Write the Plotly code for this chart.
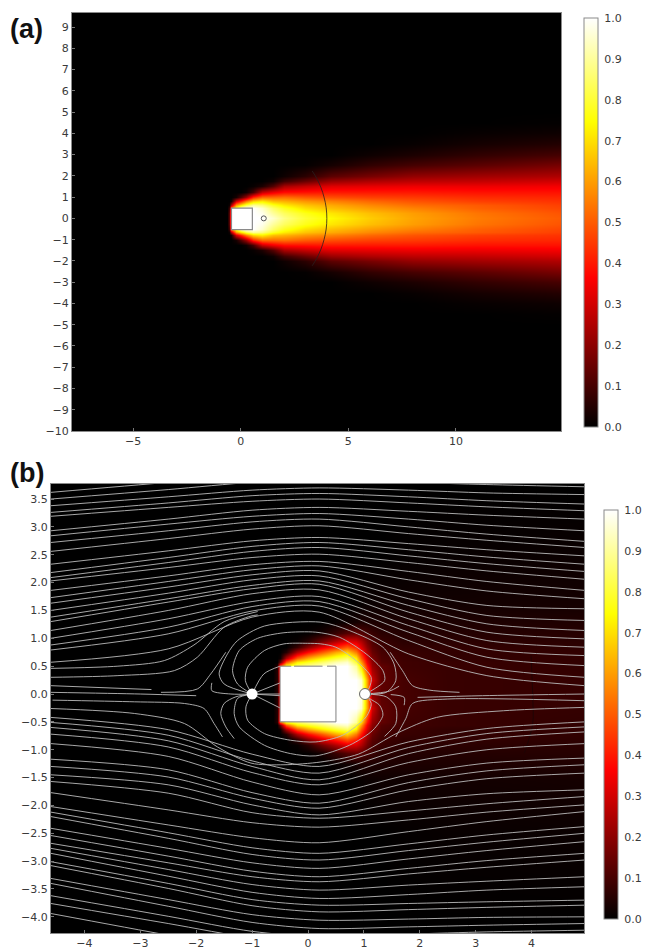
import plotly.graph_objects as go

W, H = 645, 952
HOT = [[0, "#000000"], [0.365, "#ff0000"], [0.746, "#ffff00"], [1, "#ffffff"]]
GRAY = "#8a8a8a"
TXT = "#3a3a3a"
STREAM = "#bababa"

# ---------- panel (a) field, upper half (mirrored about y = 0) ----------
A_X = [-7.84, -0.65, -0.55, -0.43, -0.2, 0, 0.25, 0.55, 1, 1.5, 2, 3, 4.2, 6, 8, 11, 14.88]
A_Y = [0, 0.25, 0.5, 0.62, 0.8, 1, 1.25, 1.5, 1.75, 2, 2.5, 3, 3.5, 4, 4.5, 5, 9.66]
A_Z = [
    [0, 0, 0.12, 0.60, 0.90, 1, 1, 1, 1, 0.95, 0.88, 0.80, 0.74, 0.67, 0.61, 0.55, 0.50],
    [0, 0, 0.12, 0.60, 0.90, 1, 1, 1, 0.98, 0.90, 0.84, 0.77, 0.71, 0.65, 0.60, 0.54, 0.49],
    [0, 0, 0.08, 0.55, 0.80, 0.95, 1, 1, 0.95, 0.85, 0.78, 0.70, 0.65, 0.60, 0.56, 0.51, 0.47],
    [0, 0, 0.02, 0.25, 0.60, 0.72, 0.82, 0.90, 0.87, 0.78, 0.72, 0.66, 0.62, 0.57, 0.53, 0.50, 0.46],
    [0, 0, 0, 0.03, 0.30, 0.42, 0.55, 0.68, 0.72, 0.65, 0.63, 0.59, 0.56, 0.52, 0.49, 0.46, 0.44],
    [0, 0, 0, 0, 0.03, 0.12, 0.22, 0.42, 0.52, 0.52, 0.53, 0.50, 0.48, 0.46, 0.45, 0.43, 0.42],
    [0, 0, 0, 0, 0, 0, 0.02, 0.10, 0.28, 0.34, 0.38, 0.39, 0.40, 0.40, 0.40, 0.39, 0.39],
    [0, 0, 0, 0, 0, 0, 0, 0.01, 0.04, 0.12, 0.24, 0.28, 0.32, 0.33, 0.34, 0.34, 0.35],
    [0, 0, 0, 0, 0, 0, 0, 0, 0, 0.02, 0.09, 0.15, 0.22, 0.25, 0.27, 0.28, 0.30],
    [0, 0, 0, 0, 0, 0, 0, 0, 0, 0, 0.02, 0.06, 0.13, 0.17, 0.21, 0.23, 0.25],
    [0, 0, 0, 0, 0, 0, 0, 0, 0, 0, 0, 0.005, 0.03, 0.07, 0.10, 0.13, 0.17],
    [0, 0, 0, 0, 0, 0, 0, 0, 0, 0, 0, 0, 0, 0.02, 0.04, 0.07, 0.10],
    [0, 0, 0, 0, 0, 0, 0, 0, 0, 0, 0, 0, 0, 0, 0.01, 0.03, 0.05],
    [0, 0, 0, 0, 0, 0, 0, 0, 0, 0, 0, 0, 0, 0, 0, 0.01, 0.02],
    [0, 0, 0, 0, 0, 0, 0, 0, 0, 0, 0, 0, 0, 0, 0, 0, 0.005],
    [0, 0, 0, 0, 0, 0, 0, 0, 0, 0, 0, 0, 0, 0, 0, 0, 0],
    [0, 0, 0, 0, 0, 0, 0, 0, 0, 0, 0, 0, 0, 0, 0, 0, 0],
]
A_BOX_X = [-0.43, 0.54]
A_BOX_Y = [-0.53, 0.48]
A_ARC_X = [3.32, 3.53, 3.73, 3.87, 3.97, 4.0, 3.97, 3.87, 3.73, 3.53, 3.32]
A_ARC_Y = [2.23, 1.88, 1.44, 1.0, 0.5, 0, -0.5, -1.0, -1.44, -1.88, -2.23]
A_PROBE_X = [1.07]
A_PROBE_Y = [0]
A_XT = [-5, 0, 5, 10]
A_YT = list(range(-10, 10))

# ---------- panel (b) field: upper rows and the y of the matching lower rows ----------
B_X = [-4.6, -0.62, -0.56, -0.5, -0.4, -0.2, 0, 0.25, 0.5, 0.7, 0.85, 0.95, 1.05, 1.15, 1.3, 1.7, 2.5, 4.95]
B_Y_UP = [0, 0.25, 0.5, 0.58, 0.65, 0.75, 0.85, 0.95, 1.1, 1.3, 1.6, 2.5, 3.77]
B_Y_LOW = [0, -0.25, -0.5, -0.56, -0.62, -0.71, -0.81, -0.91, -1.05, -1.25, -1.55, -2.5, -4.29]
B_Z = [
    [0, 0, 0.05, 0.40, 1, 1, 1, 1, 1, 1, 1, 0.98, 0.60, 0.20, 0.13, 0.10, 0.08, 0.075],
    [0, 0, 0.05, 0.40, 1, 1, 1, 1, 1, 1, 1, 0.95, 0.60, 0.30, 0.14, 0.10, 0.08, 0.075],
    [0, 0, 0.05, 0.50, 0.78, 0.85, 0.90, 0.95, 1, 1, 0.90, 0.70, 0.40, 0.22, 0.14, 0.09, 0.08, 0.07],
    [0, 0, 0, 0.15, 0.50, 0.72, 0.78, 0.85, 0.92, 0.95, 0.80, 0.60, 0.34, 0.20, 0.12, 0.09, 0.08, 0.07],
    [0, 0, 0, 0.02, 0.25, 0.50, 0.62, 0.72, 0.80, 0.85, 0.72, 0.50, 0.30, 0.18, 0.11, 0.085, 0.07, 0.07],
    [0, 0, 0, 0, 0.05, 0.25, 0.38, 0.50, 0.62, 0.68, 0.55, 0.40, 0.24, 0.15, 0.10, 0.08, 0.07, 0.07],
    [0, 0, 0, 0, 0, 0.08, 0.20, 0.33, 0.42, 0.50, 0.42, 0.32, 0.20, 0.13, 0.09, 0.07, 0.07, 0.065],
    [0, 0, 0, 0, 0, 0.01, 0.06, 0.16, 0.25, 0.32, 0.30, 0.25, 0.16, 0.11, 0.08, 0.06, 0.06, 0.06],
    [0, 0, 0, 0, 0, 0, 0.005, 0.03, 0.08, 0.12, 0.14, 0.12, 0.10, 0.08, 0.06, 0.05, 0.05, 0.055],
    [0, 0, 0, 0, 0, 0, 0, 0, 0.01, 0.02, 0.03, 0.04, 0.04, 0.04, 0.04, 0.04, 0.04, 0.045],
    [0, 0, 0, 0, 0, 0, 0, 0, 0, 0, 0.005, 0.01, 0.015, 0.015, 0.02, 0.02, 0.025, 0.03],
    [0, 0, 0, 0, 0, 0, 0, 0, 0, 0, 0, 0, 0, 0, 0, 0.005, 0.01, 0.015],
    [0, 0, 0, 0, 0, 0, 0, 0, 0, 0, 0, 0, 0, 0, 0, 0, 0, 0],
]
B_BOX_X = [-0.5, -0.5, 0.5, 0.5, -0.5]
B_BOX_Y = [-0.5, 0.5, 0.5, -0.5, -0.5]
B_EDGE_X = [-0.5, -0.3, None, -0.25, 0.26, None, 0.34, 0.5, 0.5, -0.5, -0.5]
B_EDGE_Y = [0.5, 0.5, None, 0.5, 0.5, None, 0.5, 0.5, -0.5, -0.5, 0.5]
B_DOT_L = [-1.0, 0]
B_DOT_R = [1.02, 0]
B_ARC_X = [3.99, 4.02, 4.02, 3.87]
B_ARC_Y = [0.69, -0.06, -0.53, -1.06]
B_XT = [-4, -3, -2, -1, 0, 1, 2, 3, 4]
B_YT = [3.5, 3.0, 2.5, 2.0, 1.5, 1.0, 0.5, 0.0, -0.5, -1.0, -1.5, -2.0, -2.5, -3.0, -3.5, -4.0]

# ---------- panel (b) streamlines crossing the whole frame ----------
FAR_X = [-4.6, -2.5, -1.0, 0.2, 1.8, 3.2, 4.95]
FAR_Y = [
    [3.62, 3.80, 3.93, 3.98, 3.93, 3.88, 3.84],
    [3.50, 3.67, 3.80, 3.84, 3.80, 3.76, 3.72],
    [3.38, 3.54, 3.66, 3.70, 3.66, 3.61, 3.58],
    [3.26, 3.43, 3.56, 3.60, 3.54, 3.47, 3.41],
    [3.19, 3.35, 3.46, 3.50, 3.43, 3.36, 3.29],
    [2.93, 3.14, 3.30, 3.35, 3.28, 3.21, 3.14],
    [2.84, 3.05, 3.19, 3.24, 3.14, 3.03, 2.93],
    [2.72, 2.93, 3.09, 3.14, 3.00, 2.87, 2.74],
    [2.56, 2.79, 2.96, 3.02, 2.88, 2.76, 2.63],
    [2.33, 2.57, 2.75, 2.81, 2.70, 2.59, 2.48],
    [2.18, 2.45, 2.65, 2.72, 2.59, 2.46, 2.33],
    [2.09, 2.36, 2.56, 2.63, 2.48, 2.34, 2.20],
    [2.03, 2.27, 2.45, 2.51, 2.36, 2.21, 2.06],
    [1.86, 2.12, 2.32, 2.38, 2.20, 2.02, 1.86],
    [1.73, 2.02, 2.23, 2.30, 2.05, 1.85, 1.71],
    [1.63, 1.92, 2.14, 2.21, 1.83, 1.59, 1.53],
    [1.50, 1.81, 2.05, 2.12, 1.71, 1.41, 1.32],
    [1.38, 1.71, 1.95, 2.03, 1.59, 1.26, 1.14],
    [1.30, 1.65, 1.89, 1.97, 1.47, 1.11, 0.99],
    [1.14, 1.50, 1.80, 1.87, 1.35, 0.96, 0.84],
    [1.00, 1.35, 1.66, 1.75, 1.23, 0.81, 0.69],
    [0.88, 1.20, 1.57, 1.66, 1.11, 0.66, 0.51],
    [0.79, 1.08, 1.49, 1.58, 0.96, 0.48, 0.30],
    [0.57, 0.81, 1.38, 1.47, 0.72, 0.33, 0.15],
    [-0.42, -0.64, -1.08, -1.30, -0.86, -0.62, -0.50],
    [-0.51, -0.74, -1.20, -1.42, -0.96, -0.71, -0.59],
    [-0.60, -0.84, -1.30, -1.54, -1.07, -0.81, -0.68],
    [-0.72, -0.95, -1.41, -1.63, -1.23, -1.00, -0.89],
    [-0.89, -1.12, -1.58, -1.81, -1.45, -1.24, -1.15],
    [-1.17, -1.36, -1.77, -1.96, -1.59, -1.38, -1.27],
    [-1.30, -1.49, -1.87, -2.05, -1.72, -1.52, -1.42],
    [-1.45, -1.63, -1.99, -2.17, -1.93, -1.79, -1.72],
    [-1.57, -1.78, -2.13, -2.23, -2.10, -1.97, -1.84],
    [-1.77, -2.08, -2.31, -2.39, -2.26, -2.12, -1.99],
    [-2.02, -2.35, -2.58, -2.67, -2.47, -2.29, -2.11],
    [-2.12, -2.49, -2.76, -2.86, -2.69, -2.53, -2.38],
    [-2.20, -2.59, -2.88, -2.98, -2.81, -2.66, -2.50],
    [-2.41, -2.77, -3.03, -3.13, -2.96, -2.81, -2.65],
    [-2.54, -2.91, -3.18, -3.28, -3.13, -2.99, -2.86],
    [-2.68, -3.03, -3.28, -3.37, -3.23, -3.11, -2.98],
    [-2.77, -3.15, -3.42, -3.52, -3.43, -3.36, -3.28],
    [-2.86, -3.27, -3.56, -3.67, -3.60, -3.52, -3.46],
    [-3.01, -3.40, -3.69, -3.79, -3.76, -3.73, -3.70],
    [-3.08, -3.49, -3.80, -3.91, -3.87, -3.83, -3.79],
    [-3.31, -3.69, -3.96, -4.06, -4.04, -4.01, -4.00],
    [-3.40, -3.81, -4.10, -4.21, -4.18, -4.15, -4.12],
    [-3.62, -3.99, -4.26, -4.36, -4.31, -4.27, -4.24],
    [-3.76, -4.12, -4.38, -4.48, -4.45, -4.41, -4.36],
    [-3.94, -4.33, -4.60, -4.70, -4.66, -4.60, -4.55],
]

# ---------- panel (b) streamlines near the body ----------
NEAR_LINES = [
    ([-1.0, -1.12, -1.08, -0.78, -0.43, -0.01, 0.23, 0.50, 0.86, 1.13, 1.10, 1.02],
     [0.0, 0.24, 0.48, 0.78, 0.90, 0.91, 0.90, 0.84, 0.60, 0.30, 0.12, 0.0]),
    ([-1.0, -1.26, -1.35, -1.23, -0.90, -0.43, 0.14, 0.56, 1.04, 1.34, 1.37, 1.10, 1.02],
     [0.0, 0.18, 0.42, 0.78, 1.00, 1.10, 1.11, 1.02, 0.72, 0.42, 0.24, 0.04, 0.0]),
    ([-1.0, -1.50, -1.59, -1.44, -1.26, -0.78, 0.23, 0.74, 1.34, 1.54, 1.57, 1.40, 1.02],
     [0.0, 0.18, 0.36, 0.72, 0.96, 1.22, 1.29, 1.14, 0.84, 0.54, 0.24, 0.03, 0.0]),
    ([-1.0, -0.79, -0.5], [0.0, 0.36, 0.50]),
    ([-1.0, -0.5], [0.0, 0.2]),
    ([-1.0, -0.5], [0.0, -0.03]),
    ([-1.0, -0.5], [0.0, -0.25]),
    ([-1.72, -1.72, -1.38, -1.0], [0.20, 0.06, 0.0, 0.0]),
    ([-2.63, -1.98, -1.74, -1.47], [0.03, 0.09, 0.36, 0.75]),
    ([-4.6, -2.8], [0.15, 0.08]),
    ([-4.6, -3.4, -2.39, -1.98, -1.50, -1.02, -0.9], [0.30, 0.33, 0.42, 0.66, 1.20, 1.40, 1.42]),
    ([-4.6, -3.4, -2.57, -2.04, -1.50, -0.90], [0.46, 0.50, 0.60, 0.88, 1.30, 1.48]),
    ([-4.6, -3.0, -2.0], [0.03, 0.0, -0.03]),
    ([1.47, 1.69, 1.87, 2.17, 2.71], [0.75, 0.42, 0.15, 0.07, 0.03]),
    ([1.02, 1.45, 1.63], [0.0, 0.05, 0.14]),
    ([1.48, 1.72, 1.72], [-0.01, -0.06, -0.20]),
    ([1.96, 3.12, 4.94], [-0.06, -0.03, 0.0]),
    ([-1.0, -1.11, -1.08, -0.78, -0.31, 0.14, 0.62, 1.04, 1.13, 1.02],
     [0.0, -0.23, -0.47, -0.71, -0.83, -0.86, -0.74, -0.41, -0.17, 0.0]),
    ([-1.0, -1.26, -1.32, -1.23, -0.78, -0.31, 0.14, 0.74, 1.16, 1.34, 1.28, 1.10, 1.02],
     [0.0, -0.08, -0.35, -0.59, -0.92, -1.07, -1.11, -0.92, -0.65, -0.38, -0.20, -0.08, 0.0]),
    ([-1.0, -1.29, -1.50, -1.56, -1.47, -1.32], [0.0, -0.05, -0.17, -0.35, -0.59, -0.80]),
    ([-4.57, -3.1, -2.21, -1.86, -1.68, -1.53], [-0.11, -0.14, -0.17, -0.26, -0.53, -0.77]),
    ([-4.6, -3.1, -2.21, -1.62, -1.02, -0.43, 0.23, 0.9, 1.6, 2.3, 3.5, 4.94],
     [-0.26, -0.35, -0.53, -0.95, -1.24, -1.27, -1.22, -1.08, -0.70, -0.42, -0.30, -0.24]),
    ([1.02, 1.40, 1.57, 1.57, 1.37], [0.0, -0.05, -0.23, -0.53, -0.76]),
    ([1.57, 1.75, 1.87, 2.5, 4.94], [-0.77, -0.44, -0.17, -0.09, -0.12]),
    ([-1.0, -0.5], [0.0, 0.0]),
]

fig = go.Figure()


def colorbar(y_top_px, x_px):
    return dict(
        x=x_px / W, xanchor="left", xpad=0,
        y=1 - y_top_px / H, yanchor="top", ypad=0,
        len=409, lenmode="pixels", thickness=14, thicknessmode="pixels",
        outlinecolor=GRAY, outlinewidth=1,
        tickvals=[i / 10 for i in range(11)], tickformat=".1f",
        ticks="outside", ticklen=4, tickcolor="rgba(0,0,0,0)", tickwidth=1,
        tickfont=dict(family="DejaVu Sans", size=11, color=TXT),
    )


fig.add_trace(go.Heatmap(
    x=A_X, y=[-v for v in A_Y[:0:-1]] + A_Y, z=A_Z[:0:-1] + A_Z,
    zmin=0, zmax=1, zsmooth="best", colorscale=HOT,
    colorbar=colorbar(18, 584), xaxis="x", yaxis="y", hoverinfo="skip",
))
fig.add_trace(go.Scatter(x=A_ARC_X, y=A_ARC_Y, mode="lines", line=dict(color="#2a2020", width=0.8, shape="spline"),
                         xaxis="x", yaxis="y", showlegend=False, hoverinfo="skip"))
fig.add_trace(go.Scatter(x=A_PROBE_X, y=A_PROBE_Y, mode="markers",
                         marker=dict(symbol="circle-open", size=5, color="#555555", line=dict(width=1)),
                         xaxis="x", yaxis="y", showlegend=False, hoverinfo="skip"))

fig.add_trace(go.Heatmap(
    x=B_X, y=B_Y_LOW[:0:-1] + B_Y_UP, z=B_Z[:0:-1] + B_Z, zmin=0, zmax=1, zsmooth="best", colorscale=HOT,
    colorbar=colorbar(510, 604), xaxis="x2", yaxis="y2", hoverinfo="skip",
))
fig.add_trace(go.Scatter(x=B_ARC_X, y=B_ARC_Y, mode="lines", line=dict(color="#1a0505", width=0.8, shape="spline"),
                         xaxis="x2", yaxis="y2", showlegend=False, hoverinfo="skip"))
for ys in FAR_Y:
    fig.add_trace(go.Scatter(x=FAR_X, y=ys, mode="lines", line=dict(color=STREAM, width=0.9, shape="spline", smoothing=0.8),
                             xaxis="x2", yaxis="y2", showlegend=False, hoverinfo="skip"))
for xs, ys in NEAR_LINES:
    fig.add_trace(go.Scatter(x=xs, y=ys, mode="lines", line=dict(color=STREAM, width=0.9, shape="spline", smoothing=0.8),
                             xaxis="x2", yaxis="y2", showlegend=False, hoverinfo="skip"))

fig.add_trace(go.Scatter(x=B_BOX_X, y=B_BOX_Y, mode="lines", fill="toself", fillcolor="white", line=dict(width=0, color="white"),
                         xaxis="x2", yaxis="y2", showlegend=False, hoverinfo="skip"))
fig.add_trace(go.Scatter(x=B_EDGE_X, y=B_EDGE_Y, mode="lines", line=dict(width=1, color="#808080"),
                         xaxis="x2", yaxis="y2", showlegend=False, hoverinfo="skip"))
fig.add_trace(go.Scatter(x=[B_DOT_L[0]], y=[B_DOT_L[1]], mode="markers",
                         marker=dict(size=11, color="white", line=dict(width=0)),
                         xaxis="x2", yaxis="y2", showlegend=False, hoverinfo="skip"))
fig.add_trace(go.Scatter(x=[B_DOT_R[0]], y=[B_DOT_R[1]], mode="markers",
                         marker=dict(size=11, color="white", line=dict(width=1, color="#666666")),
                         xaxis="x2", yaxis="y2", showlegend=False, hoverinfo="skip"))


def axis(domain, rng, ticks, anchor, fmt=None):
    a = dict(domain=domain, range=rng, tickvals=ticks, anchor=anchor, showgrid=False, zeroline=False,
             showline=True, linecolor=GRAY, linewidth=1, mirror=True,
             ticks="inside", ticklen=3, tickcolor="#777777", tickwidth=1,
             tickfont=dict(family="DejaVu Sans", size=11, color=TXT))
    if fmt:
        a["tickformat"] = fmt
    return a


layout = dict(
    width=W, height=H, margin=dict(l=0, r=0, t=0, b=0, autoexpand=False),
    paper_bgcolor="white", plot_bgcolor="black",
    showlegend=False,
    xaxis=axis([72 / W, 561 / W], [-7.84, 14.88], A_XT, "y"),
    yaxis=axis([1 - 431 / H, 1 - 13 / H], [-10, 9.66], A_YT, "x"),
    xaxis2=axis([51 / W, 584 / W], [-4.597, 4.937], B_XT, "y2"),
    yaxis2=axis([1 - 933 / H, 1 - 484 / H], [-4.29, 3.77], B_YT, "x2", ".1f"),
    shapes=[
        dict(type="rect", xref="x", yref="y", x0=A_BOX_X[0], x1=A_BOX_X[1], y0=A_BOX_Y[0], y1=A_BOX_Y[1],
             fillcolor="white", line=dict(color="#8a8a8a", width=1.2)),
    ],
    annotations=[
        dict(text="<b>(a)</b>", x=8 / W, y=1 - 29 / H, xref="paper", yref="paper", xanchor="left", yanchor="middle",
             showarrow=False, font=dict(family="Liberation Sans", size=27, color="#111111")),
        dict(text="<b>(b)</b>", x=8 / W, y=1 - 473 / H, xref="paper", yref="paper", xanchor="left", yanchor="middle",
             showarrow=False, font=dict(family="Liberation Sans", size=27, color="#111111")),
    ],
)
fig.update_layout(**layout)
fig.write_html("out.html", post_script="document.body.style.margin='0';", config=dict(displayModeBar=False))
